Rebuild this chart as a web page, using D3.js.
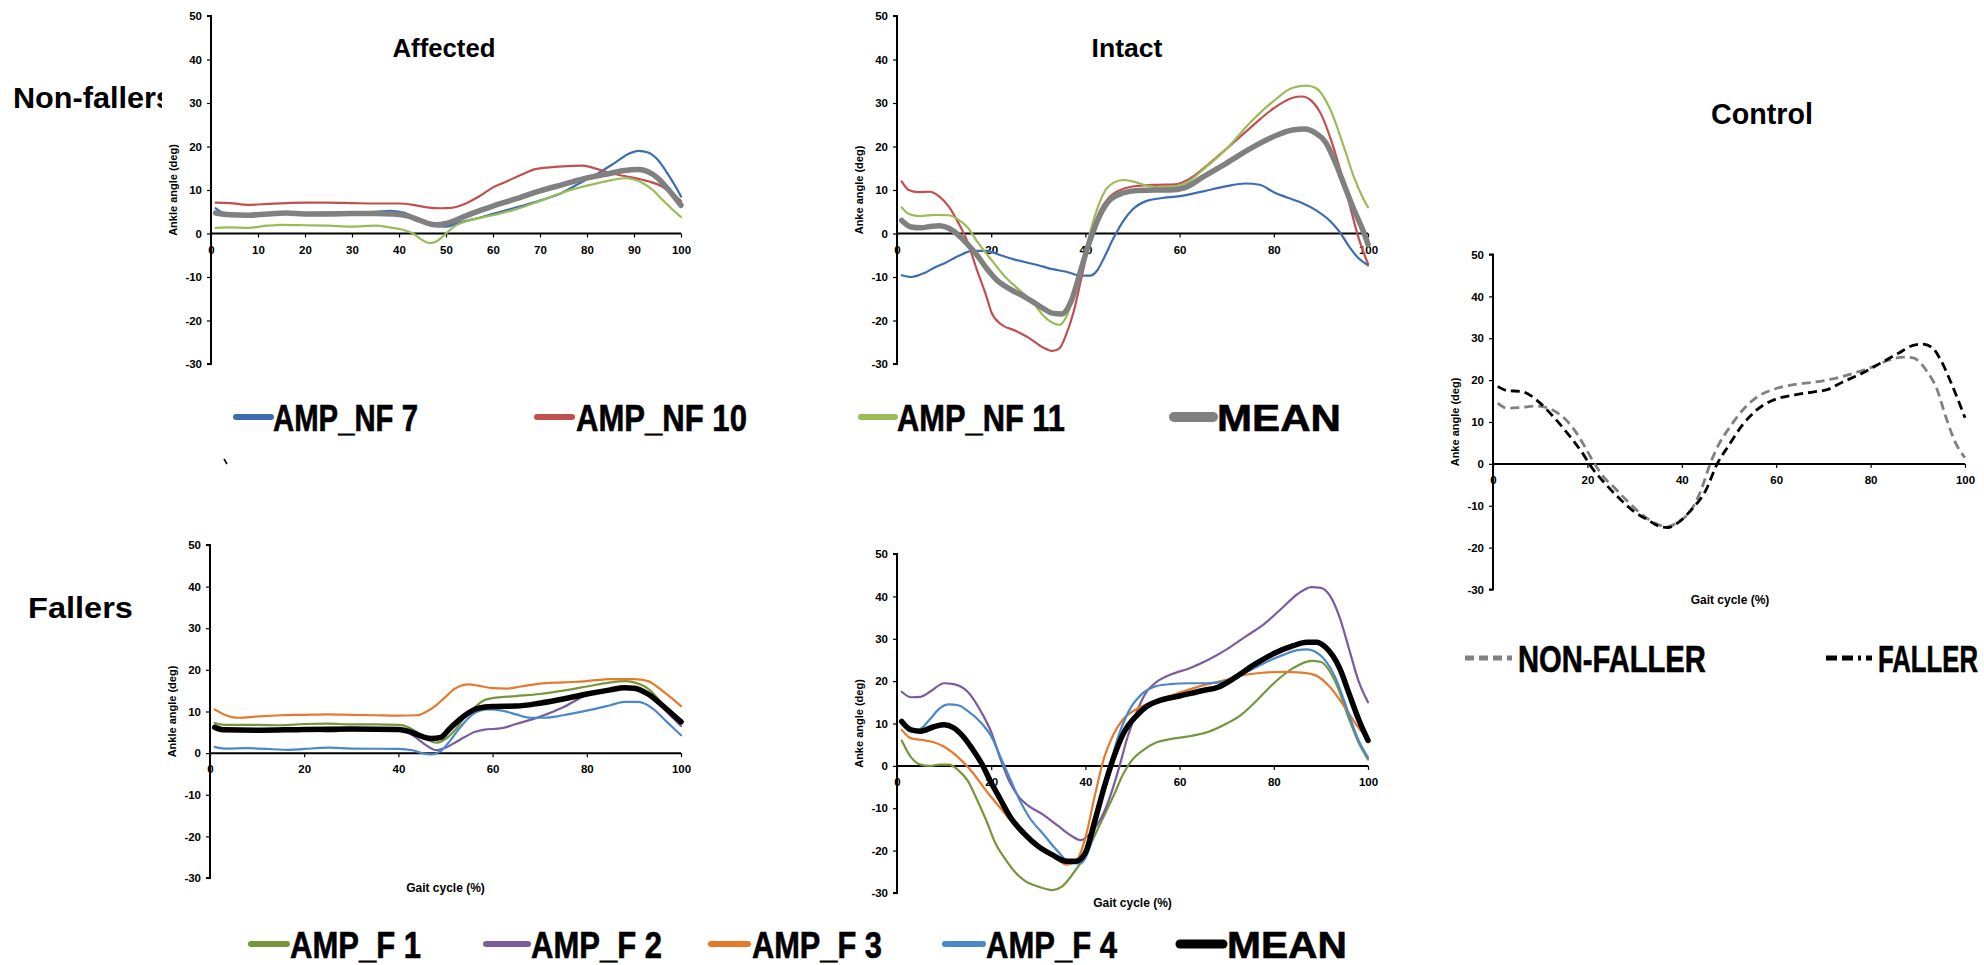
<!DOCTYPE html>
<html><head><meta charset="utf-8">
<script src="https://cdn.jsdelivr.net/npm/d3@7"></script>
<style>
html,body{margin:0;padding:0;background:#fff;}
svg{display:block;}
text{font-family:"Liberation Sans",Arial,sans-serif;font-weight:bold;}
.big{font-family:"Liberation Sans Narrow","Liberation Sans",Arial,sans-serif;}
</style></head>
<body>
<svg id="c" width="1984" height="965"></svg>
<script>
// ---------------- DATA (gait cycle %, ankle angle deg) ----------------
const yTicks = [50,40,30,20,10,0,-10,-20,-30];
const xTicksAffNF = [0,10,20,30,40,50,60,70,80,90,100];
const xTicks20 = [0,20,40,60,80,100];

// Non-fallers, affected side
const affNF7 = [[1,5.8],[3,4.6],[6,4.3],[10,4.5],[15,4.8],[20,4.7],[25,4.8],[30,4.9],[35,5.0],[38,5.2],[41,4.8],[44,3.2],[47,1.8],[50,1.6],[53,2.6],[56,3.3],[60,4.5],[65,6.0],[70,7.6],[74,9.0],[78,11.3],[82,13.6],[86,16.3],[89,18.4],[91,19.0],[93,18.6],[95,17.0],[97,14.0],[99,10.5],[100,8.5]];
const affNF10 = [[1,7.1],[4,7.0],[8,6.6],[12,6.8],[16,7.0],[20,7.1],[25,7.1],[30,7.0],[35,6.9],[40,6.9],[43,6.6],[46,6.0],[49,5.8],[51,5.9],[54,6.8],[57,8.5],[60,10.6],[63,12.0],[66,13.5],[69,14.8],[72,15.2],[76,15.5],[79,15.6],[81,15.2],[84,14.2],[87,13.4],[90,12.8],[93,12.0],[96,10.8],[98,9.2],[100,7.5]];
const affNF11 = [[1,1.3],[4,1.4],[8,1.3],[12,1.8],[15,2.0],[20,1.9],[25,1.8],[30,1.6],[35,1.8],[38,1.4],[41,0.8],[43,0.0],[44.5,-1.2],[46.5,-2.2],[48,-1.8],[50,0.0],[52,1.8],[55,3.0],[60,4.2],[65,5.6],[70,7.5],[75,9.5],[80,11.0],[84,12.0],[88,12.7],[90,12.4],[92,11.5],[94,10.0],[96,7.8],[98,5.7],[100,3.8]];
const affNFMean = [[1,4.7],[4,4.3],[8,4.2],[12,4.5],[16,4.7],[20,4.5],[25,4.5],[30,4.6],[35,4.6],[39,4.5],[42,4.0],[44,3.2],[46,2.4],[48,2.0],[50,2.3],[53,3.5],[56,4.8],[60,6.3],[65,8.0],[70,9.8],[75,11.3],[80,12.8],[84,13.6],[88,14.5],[91,14.7],[93,14.2],[95,12.8],[97,10.5],[100,6.5]];

// Non-fallers, intact side
const intNF7 = [[1,-9.6],[3,-10],[6,-9],[8,-7.8],[10,-6.9],[13,-5.2],[16,-4.0],[19,-4.0],[22,-5.0],[25,-6.0],[30,-7.3],[33,-8.2],[36,-8.8],[39,-9.7],[41,-9.7],[42.5,-8.5],[44,-5.5],[46,-1.0],[48,2.8],[50,5.5],[53,7.5],[56,8.1],[60,8.6],[65,9.7],[70,10.9],[74,11.5],[77,11.2],[80,9.5],[83,8.2],[86,7.0],[89,5.3],[92,2.8],[94,0.3],[96,-3.0],[98,-5.7],[100,-7.3]];
const intNF10 = [[1,12],[2.5,10],[4.5,9.5],[7,9.6],[9,8.5],[11,6.2],[13,2.5],[15,-2],[17,-8.5],[19,-14.5],[20,-18],[22,-20.8],[25,-22.3],[28,-24],[31,-26.2],[33,-27.0],[34.5,-26.4],[36,-23],[37.5,-18],[39,-11],[41,-1.5],[43,5],[45,8.3],[47,9.8],[50,10.8],[55,11.2],[59,11.3],[62,12.5],[66,15.8],[70,19.5],[75,24.3],[80,28.8],[84,31.2],[86,31.5],[88,30.5],[90,27.5],[92,22],[94,15],[96,7],[98,-1],[100,-7]];
const intNF11 = [[1,6],[2.5,4.5],[5,4.0],[8,4.3],[11,4.2],[13,3.2],[15,1.4],[17,-1.8],[20,-6],[23,-10],[26,-13],[29,-16],[31,-18.8],[33,-20.5],[34.5,-21],[36,-19],[38,-12.5],[40,-4],[42,4],[44,9.5],[46,11.7],[48,12.3],[50,12],[53,11],[56,10.6],[60,11],[62,12],[65,14.7],[70,19.5],[75,25.5],[80,30.5],[84,33.5],[87,34],[89,33.4],[92,28.5],[95,19.5],[97,13],[99,8],[100,6]];
const intNFMean = [[1,3],[3,1.5],[5,1.3],[7,1.6],[9,1.8],[11,1.2],[13,-0.3],[15,-2.5],[17,-5],[19,-8],[21,-10.5],[24,-12.8],[27,-14.5],[30,-16.5],[33,-18.3],[35,-18.5],[37,-15.5],[39,-8.5],[41,-1.5],[43,4],[45,7.5],[48,9.3],[51,9.9],[55,10],[58,10],[61,10.5],[65,13],[70,16.2],[75,19.5],[80,22.3],[84,23.8],[86.5,24],[89,23],[91,21],[93,16.5],[95,11],[97,5.5],[99,0.5],[100,-2.5]];

// Control
const ctrlNonFaller = [[1,14.5],[3,13.3],[6,13.5],[9,13.8],[12,13.2],[15,11],[17,8.5],[19,5],[21,1],[23,-2.5],[26,-6],[29,-9.5],[32,-12.5],[35,-14.5],[37,-15],[39,-14],[42,-11],[44,-6.5],[46,0],[48,5],[50,8.5],[53,13],[56,16],[60,18],[64,19],[68,19.5],[72,20.3],[76,21.5],[80,23],[84,24.8],[87,25.5],[89,25.3],[92,22],[94,18],[96,11],[98,5],[100,1.5]];
const ctrlFaller = [[1,18.5],[3,17.5],[6,17.3],[8,16.3],[10,14.5],[13,11],[16,7],[19,2.5],[21,-1],[24,-5],[27,-8.5],[30,-11.5],[33,-13.5],[35,-14.8],[37,-15.2],[39,-14.2],[42,-11],[45,-6.5],[47.5,0],[50,4.5],[53,9.5],[56,13],[60,15.5],[64,16.5],[68,17.2],[71,17.8],[74,19.5],[78,21.5],[82,24],[86,26.5],[89,28.3],[91,28.6],[93,27.8],[95,24.5],[97,19.5],[100,11]];

// Fallers, affected side
const affF1 = [[1,7.2],[3,6.8],[10,6.8],[15,6.7],[20,7.0],[25,7.1],[30,6.9],[35,6.9],[40,6.8],[42,6.3],[44,5.0],[46,3.4],[48,2.5],[50,3.4],[52,5.5],[54,8.5],[56,10.8],[58,12.6],[60,13.2],[65,13.7],[70,14.2],[75,15],[80,16],[85,17],[88,17.3],[90,17.0],[93,15.5],[96,12],[100,7.5]];
const affF2 = [[1,6.0],[5,5.5],[10,5.5],[15,5.5],[20,5.7],[25,5.2],[30,5.6],[35,5.7],[40,5.6],[42,5.0],[44,3.5],[46,1.8],[48,0.7],[50,1.3],[52,2.5],[54,3.8],[56,5.0],[58,5.6],[62,6.0],[65,7.0],[70,8.7],[75,11],[80,14],[85,15.3],[90,15.6],[93,14.5],[96,11],[100,6.5]];
const affF3 = [[1,10.5],[3,9.3],[6,8.5],[10,8.8],[15,9.1],[20,9.2],[25,9.3],[30,9.2],[35,9.1],[40,9.0],[44,9.1],[46,10],[48,11.5],[50,13.5],[52,15.5],[55,16.5],[57,16.2],[60,15.6],[63,15.5],[66,16],[70,16.7],[75,17.0],[80,17.3],[85,17.8],[90,17.8],[93,17.3],[96,15],[100,11.3]];
const affF4 = [[1,1.5],[3,1.1],[8,1.2],[12,1.0],[17,0.8],[20,1.0],[25,1.3],[30,1.1],[40,1.0],[43,0.7],[45,0.0],[47,-0.3],[49,0.5],[51,3],[53,6],[56,9.5],[59,10.5],[62,10.2],[65,9.3],[68,8.5],[71,8.5],[75,9.1],[80,10.2],[85,11.5],[88,12.3],[91,12.3],[94,10.7],[97,7.5],[100,4.3]];
const affFMean = [[1,6.2],[3,5.6],[10,5.5],[20,5.7],[30,5.8],[40,5.7],[42,5.3],[45,4.0],[47,3.5],[49,3.8],[51,6],[54,9],[57,10.8],[60,11.2],[65,11.3],[70,12],[75,13],[80,14.2],[85,15.2],[88,15.7],[90,15.6],[93,14.2],[96,11.5],[100,7.5]];

// Fallers, intact side
const intF1 = [[1,6],[3,2],[5,0.3],[7,0],[9,0.3],[11,0.3],[13,-1],[15,-3.5],[17,-8],[19,-13],[21,-18.5],[23,-22],[25,-25],[27,-27],[30,-28.5],[33,-29.3],[35,-28.5],[37,-26],[40,-21],[43,-14],[46,-7],[48,-2],[50,1.5],[52,3.5],[55,5.5],[58,6.3],[62,7],[66,8],[70,10],[73,12],[76,15],[80,19.5],[84,23],[88,24.8],[90,24.5],[93,20],[96,11],[98,5.5],[100,1.5]];
const intF2 = [[1,17.5],[3,16.2],[5,16.3],[7,17.5],[10,19.5],[12,19.3],[15,17.5],[18,12.5],[20,8],[22,1.5],[24,-4],[26,-7.5],[28,-9.5],[31,-11.5],[34,-14],[37,-16.5],[39,-17.5],[41,-16],[43,-13],[45,-8],[47,-1],[49,7],[51,13],[53,17.5],[55,19.7],[58,21.5],[62,23],[66,25],[70,27.5],[74,30.5],[78,33.5],[82,37.5],[85,40.5],[88,42.2],[90,42],[92,40],[94,35],[96,27.5],[98,20],[100,15]];
const intF3 = [[1,8.5],[3,6.5],[6,6.0],[8,5.5],[10,4.5],[13,2],[16,-1.5],[19,-6],[22,-10],[25,-14],[28,-17.5],[31,-20],[34,-22],[36,-23.3],[38,-22.5],[40,-17],[42,-7],[44,2],[46,7.5],[48,11],[51,13.5],[54,15],[58,16.5],[62,18],[66,19.3],[70,20.3],[74,21.5],[78,22],[82,22.2],[86,22],[89,21.3],[92,18.5],[95,14],[98,9],[100,6.5]];
const intF4 = [[1,10],[3,8.5],[4.5,8.5],[7,11],[9,13.5],[11,14.5],[13,14.3],[15,13],[18,10],[20,7],[22,2],[24,-3],[26,-8],[28,-12],[31,-16],[34,-20],[37,-23],[39,-23],[41,-19],[43,-10],[45,-1],[47,7],[49,12.5],[52,17],[55,18.8],[58,19.3],[62,19.5],[66,19.5],[70,20],[74,22],[78,24.3],[82,26.2],[85,27.3],[87,27.5],[90,26],[93,21],[96,12],[98,6],[100,2]];
const intFMean = [[1,10.5],[3,8.5],[5,8.2],[8,9.3],[10,9.7],[12,9.0],[14,7],[16,4],[18,0.5],[20,-4],[22,-8],[24,-12],[27,-16],[30,-19],[33,-21],[36,-22.5],[38,-22.5],[40,-20.5],[42,-13],[44,-5],[46,2],[48,7.5],[51,12],[53,14],[56,15.5],[60,16.5],[65,17.8],[68,18.5],[72,21],[76,24],[80,26.5],[84,28.3],[87,29.2],[89,29.2],[91,28],[94,23],[96,17],[98,11],[100,6]];

const legendNF = ["AMP_NF 7","AMP_NF 10","AMP_NF 11","MEAN"];
const legendF = ["AMP_F 1","AMP_F 2","AMP_F 3","AMP_F 4","MEAN"];
const legendCtrl = ["NON-FALLER","FALLER"];

// ---------------- STYLE / LAYOUT ----------------
const C = {
  nfBlue:"#3D6DB0", nfRed:"#C0504D", nfGreen:"#9BBB59", grey:"#808080",
  fGreen:"#77963B", fPurple:"#7A5C9E", fOrange:"#E57A2C", fBlue:"#4A88CA", black:"#000"
};
const svg = d3.select("#c");
const fmt = d => String(d);

function panel(cfg){
  const x = d3.scaleLinear().domain([0,100]).range([cfg.x0,cfg.x1]);
  const y = d3.scaleLinear().domain([-30,50]).range([cfg.yb,cfg.yt]);
  const g = svg.append("g");
  const ya = d3.axisLeft(y).tickValues(yTicks).tickSize(4).tickPadding(5).tickFormat(fmt);
  const yg = g.append("g").attr("transform",`translate(${cfg.x0},0)`).call(ya);
  yg.select(".domain").attr("stroke","#000").attr("stroke-width",2).attr("d",`M-4,${cfg.yt}H0V${cfg.yb}H-4`);
  yg.selectAll(".tick line").attr("stroke","#000").attr("stroke-width",1.2);
  yg.selectAll(".tick text").attr("font-size",11.5).attr("font-weight","bold").attr("fill","#000")
    .attr("font-family","'Liberation Sans',Arial,sans-serif");
  const xa = d3.axisBottom(x).tickValues(cfg.xt).tickSize(4).tickPadding(8).tickFormat(fmt);
  const xg = g.append("g").attr("transform",`translate(0,${y(0)})`).call(xa);
  xg.select(".domain").attr("stroke","#000").attr("stroke-width",2).attr("d",`M${cfg.x0},0H${cfg.x1}`);
  xg.selectAll(".tick line").attr("stroke","#000").attr("stroke-width",1.2);
  xg.selectAll(".tick text").attr("font-size",11.5).attr("font-weight","bold").attr("fill","#000")
    .attr("font-family","'Liberation Sans',Arial,sans-serif");
  g.append("text").attr("transform",`translate(${cfg.x0-38},${y(10)}) rotate(-90)`)
    .attr("text-anchor","middle").attr("dominant-baseline","central").attr("font-size",11).text(cfg.ylab);
  if(cfg.xlab){
    g.append("text").attr("x",(cfg.x0+cfg.x1)/2+(cfg.xlabDx||0)).attr("y",cfg.yb+14)
      .attr("text-anchor","middle").attr("font-size",12).text(cfg.xlab);
  }
  const line = d3.line().x(d=>x(d[0])).y(d=>y(d[1])).curve(d3.curveMonotoneX);
  cfg.series.forEach(s=>{
    g.append("path").datum(s.data).attr("d",line).attr("fill","none")
      .attr("stroke",s.color).attr("stroke-width",s.w).attr("stroke-linejoin","round")
      .attr("stroke-linecap",s.dash?"butt":"round")
      .attr("stroke-dasharray",s.dash||null);
  });
  return {x,y,g};
}

panel({x0:211,x1:681,yt:16,yb:364,xt:xTicksAffNF,ylab:"Ankle angle (deg)",
  series:[{data:affNF7,color:C.nfBlue,w:2.2},{data:affNF10,color:C.nfRed,w:2.2},{data:affNF11,color:C.nfGreen,w:2.2},{data:affNFMean,color:C.grey,w:5.5}]});
panel({x0:897,x1:1368,yt:16,yb:364,xt:xTicks20,ylab:"Anke angle (deg)",
  series:[{data:intNF7,color:C.nfBlue,w:2.2},{data:intNF10,color:C.nfRed,w:2.2},{data:intNF11,color:C.nfGreen,w:2.2},{data:intNFMean,color:C.grey,w:5.5}]});
panel({x0:1493,x1:1965,yt:254.5,yb:589.5,xt:xTicks20,ylab:"Anke angle (deg)",xlab:"Gait cycle (%)",xlabDx:1,
  series:[{data:ctrlNonFaller,color:C.grey,w:2.8,dash:"9,5"},{data:ctrlFaller,color:C.black,w:2.8,dash:"9,5"}]});
panel({x0:210,x1:681,yt:545,yb:878,xt:xTicks20,ylab:"Ankle angle (deg)",xlab:"Gait cycle (%)",
  series:[{data:affF1,color:C.fGreen,w:2.2},{data:affF2,color:C.fPurple,w:2.2},{data:affF3,color:C.fOrange,w:2.2},{data:affF4,color:C.fBlue,w:2.2},{data:affFMean,color:C.black,w:5.5}]});
panel({x0:897,x1:1368,yt:554,yb:893,xt:xTicks20,ylab:"Anke angle (deg)",xlab:"Gait cycle (%)",
  series:[{data:intF1,color:C.fGreen,w:2.2},{data:intF2,color:C.fPurple,w:2.2},{data:intF3,color:C.fOrange,w:2.2},{data:intF4,color:C.fBlue,w:2.2},{data:intFMean,color:C.black,w:5.5}]});

// Big texts: drawn at a font size, then horizontally scaled to the target width
function bigText(txt,x,y,size,len,anchor,cls,heavy){
  const t = svg.append("text").attr("x",0).attr("y",0).attr("font-size",size)
    .attr("text-anchor","start").text(txt);
  if(cls) t.attr("class",cls);
  if(heavy) t.attr("stroke","#000").attr("stroke-width",heavy);
  const w = t.node().getComputedTextLength();
  const sx = len ? len / w : 1;
  const width = w * sx;
  const left = anchor === "middle" ? x - width/2 : x;
  t.attr("transform",`translate(${left},${y}) scale(${sx},1)`);
  return t;
}
bigText("Affected",444,57,26,103,"middle","big");
bigText("Intact",1127,57,26,71,"middle","big");
bigText("Control",1762,124,29,102,"middle");
svg.append("clipPath").attr("id","nfclip").append("rect").attr("x",0).attr("y",60).attr("width",162).attr("height",80);
const nfg = svg.append("g").attr("clip-path","url(#nfclip)");
{
  const t = nfg.append("text").attr("class","big").attr("font-size",30).text("Non-fallers");
  const w = t.node().getComputedTextLength();
  t.attr("transform",`translate(13,108) scale(${160/w},1)`);
}
bigText("Fallers",28,618,30,105,"start","big");

function legendItem(label,lx0,lx1,tx,tlen,y,color,w,dash){
  svg.append("line").attr("x1",lx0).attr("x2",lx1).attr("y1",y).attr("y2",y)
    .attr("stroke",color).attr("stroke-width",w).attr("stroke-linecap",dash?"butt":"round")
    .attr("stroke-dasharray",dash||null);
  bigText(label,tx,y+13.5,37,tlen,"start","big",0.6);
}
const nfCols=[C.nfBlue,C.nfRed,C.nfGreen,C.grey];
const nfPos=[[236,271,273,145],[537,572,576,171],[861,895,897,168],[1174,1213,1217,124]];
legendNF.forEach((l,i)=>legendItem(l,nfPos[i][0],nfPos[i][1],nfPos[i][2],nfPos[i][3],417,nfCols[i],i===3?10:6));
const fCols=[C.fGreen,C.fPurple,C.fOrange,C.fBlue,C.black];
const fPos=[[251,287,290,131],[486,528,531,131],[711,748,752,130],[945,983,986,131],[1180,1223,1227,120]];
legendF.forEach((l,i)=>legendItem(l,fPos[i][0],fPos[i][1],fPos[i][2],fPos[i][3],944,fCols[i],i===4?9:6));
legendItem(legendCtrl[0],1465,1512,1518,188,658,C.grey,5,"9,5");
legendItem(legendCtrl[1],1826,1872,1878,100,658,C.black,5,"11,5,11,5,3,5");

svg.append("path").attr("d","M224,459 L227,464").attr("stroke","#000").attr("stroke-width",1.5);
</script>
</body></html>
